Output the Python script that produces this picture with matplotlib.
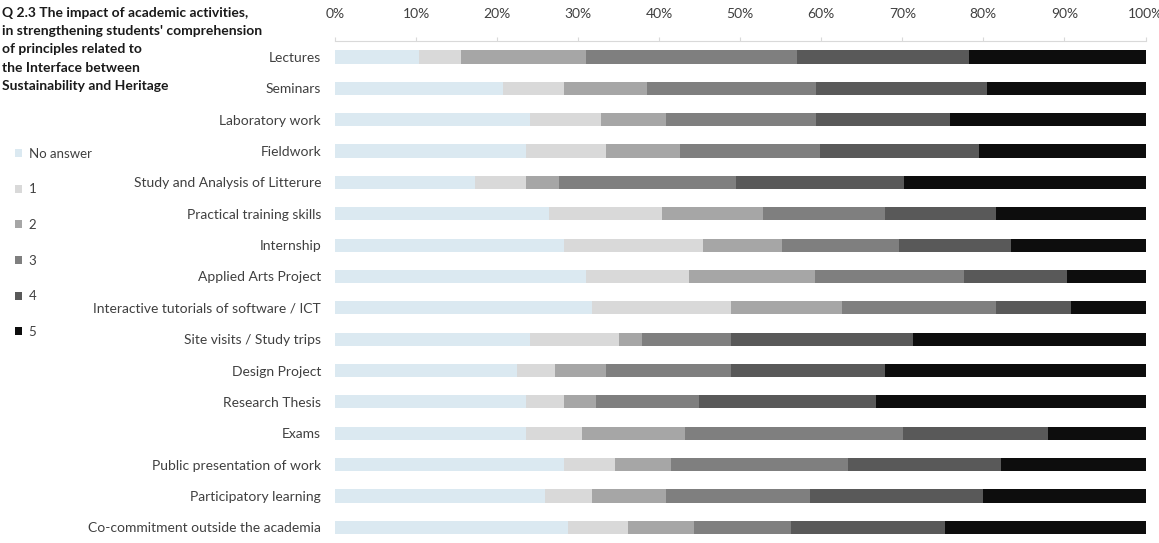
import numpy as np
import matplotlib
matplotlib.use("Agg")
import matplotlib.pyplot as plt
from matplotlib.patches import Patch

plt.rcParams["font.family"] = ["Lato", "DejaVu Sans"]

activities = [
    "Lectures", "Seminars", "Laboratory work", "Fieldwork",
    "Study and Analysis of Litterure", "Practical training skills", "Internship",
    "Applied Arts Project", "Interactive tutorials of software / ICT",
    "Site visits / Study trips", "Design Project", "Research Thesis", "Exams",
    "Public presentation of work", "Participatory learning",
    "Co-commitment outside the academia",
]
levels = ["No answer", "1", "2", "3", "4", "5"]

# cumulative boundaries (%)
no_answer = [10.4, 20.7, 24.1, 23.6, 17.3, 26.4, 28.2, 31.0, 31.7, 24.1, 22.5, 23.6, 23.6, 28.2, 25.9, 28.8]
cum1 = [15.5, 28.2, 32.8, 33.4, 23.6, 40.3, 45.4, 43.7, 48.8, 35.0, 27.1, 28.2, 30.5, 34.5, 31.7, 36.2]
cum2 = [31.0, 38.5, 40.8, 42.6, 27.6, 52.8, 55.2, 59.2, 62.6, 37.9, 33.4, 32.2, 43.2, 41.5, 40.8, 44.3]
cum3 = [57.0, 59.3, 59.3, 59.8, 49.5, 67.9, 69.6, 77.6, 81.6, 48.9, 48.9, 44.9, 70.1, 63.3, 58.6, 56.3]
cum4 = [78.2, 80.5, 75.9, 79.4, 70.2, 81.6, 83.4, 90.3, 90.8, 71.3, 67.9, 66.7, 88.0, 82.2, 79.9, 75.3]
cum5 = [100.0] * 16

colors = ["#dbe9f1", "#d9d9d9", "#a6a6a6", "#7f7f7f", "#595959", "#0d0d0d"]

bounds = np.array([[0.0] * 16, no_answer, cum1, cum2, cum3, cum4, cum5])
y = np.arange(len(activities))

fig = plt.figure(figsize=(11.59, 5.43), dpi=100)
ax = fig.add_axes([335 / 1159, 0.0, 810.5 / 1159, 1 - 41.3 / 543])

for i in range(6):
    ax.barh(y, bounds[i + 1] - bounds[i], left=bounds[i], height=0.42,
            color=colors[i], label=levels[i])

ax.set_xlim(0, 100)
ax.set_ylim(len(activities) - 0.5, -0.5)
ax.set_yticks(y)
ax.set_yticklabels(activities, fontsize=10, color="#404040")
ax.set_xticks(np.arange(0, 101, 10))
ax.set_xticklabels([f"{v}%" for v in range(0, 101, 10)], fontsize=10, color="#404040")
ax.xaxis.tick_top()
ax.tick_params(axis="x", length=3, color="#d9d9d9", pad=12)
ax.tick_params(axis="y", length=0, pad=10)
for s in ["left", "right", "bottom"]:
    ax.spines[s].set_visible(False)
ax.spines["top"].set_color("#d9d9d9")

fig.text(2 / 1159, 1 - 7 / 543,
         "Q 2.3 The impact of academic activities,\n"
         "in strengthening students' comprehension\n"
         "of principles related to\n"
         "the Interface between\n"
         "Sustainability and Heritage",
         fontsize=10, fontweight="bold", va="top", ha="left", linespacing=1.62,
         color="#1a1a1a")

handles = [Patch(facecolor=c, edgecolor="none") for c in colors]
fig.legend(handles, levels, loc="upper left", bbox_to_anchor=(3 / 1159, 1 - 136 / 543),
           frameon=False, fontsize=9.5, handlelength=0.55, handleheight=0.55,
           handletextpad=0.5, labelspacing=1.79, labelcolor="#404040")

fig.savefig("out.png", dpi=100)
